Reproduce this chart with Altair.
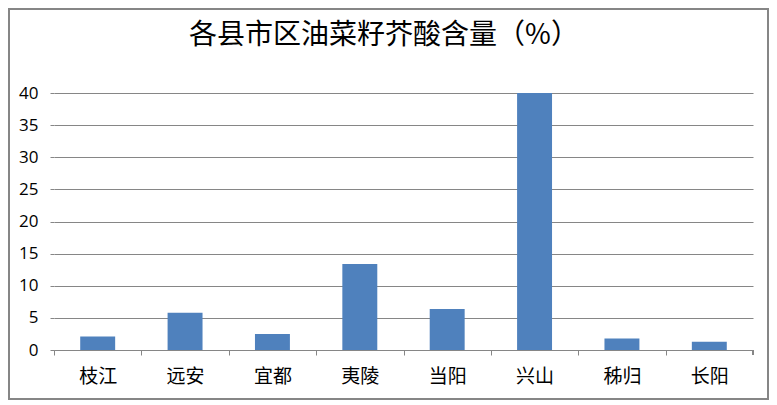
import altair as alt
import pandas as pd

categories = ["枝江", "远安", "宜都", "夷陵", "当阳", "兴山", "秭归", "长阳"]
values = [2.1, 5.8, 2.5, 13.4, 6.4, 40.0, 1.8, 1.3]
y_ticks = [0, 5, 10, 15, 20, 25, 30, 35, 40]
title_text = "各县市区油菜籽芥酸含量（%）"

df = pd.DataFrame({"county": categories, "value": values})

W, H = 699, 257
STEP = W / len(categories)

bars = alt.Chart(df).mark_bar(color="#4F81BD").encode(
    x=alt.X("county:N", sort=categories, title=None,
            scale=alt.Scale(paddingInner=0.6, paddingOuter=0.3),
            axis=alt.Axis(labelAngle=0, tickOffset=-STEP / 2, labelOffset=STEP / 2,
                          tickSize=5, tickColor="#868686", domainColor="#868686",
                          labelPadding=12, labelFontSize=19, labelColor="#000000",
                          labelFont="Noto Sans CJK SC")),
    y=alt.Y("value:Q", title=None,
            scale=alt.Scale(domain=[0, 40], nice=False),
            axis=alt.Axis(values=y_ticks, grid=True, gridColor="#868686", domain=False,
                          tickSize=4, tickColor="#868686", labelPadding=12,
                          labelFontSize=17, labelColor="#000000", labelFont="Open Sans")),
)

end_tick = alt.Chart(df).mark_rule(color="#868686").encode(
    x=alt.value(W), y=alt.value(H), y2=alt.value(H + 5)
)

title = alt.Chart(pd.DataFrame({"t": [title_text]})).mark_text(
    font="Noto Sans CJK SC", fontSize=28, color="#000000", baseline="middle", align="center"
).encode(text="t:N", x=alt.value(330), y=alt.value(-57))

frame = alt.Chart(df).mark_rect(fill=None, stroke="#868686", strokeWidth=2).encode(
    x=alt.value(-45), x2=alt.value(W + 15), y=alt.value(-84), y2=alt.value(H + 49)
)

chart = alt.layer(bars, end_tick, title, frame).properties(
    width=W, height=H,
    autosize=alt.AutoSizeParams(type="none"),
    padding={"left": 46, "top": 85, "right": 16, "bottom": 50},
).configure_view(stroke=None)

chart.save("out.html", embed_options={"renderer": "svg", "actions": False})
